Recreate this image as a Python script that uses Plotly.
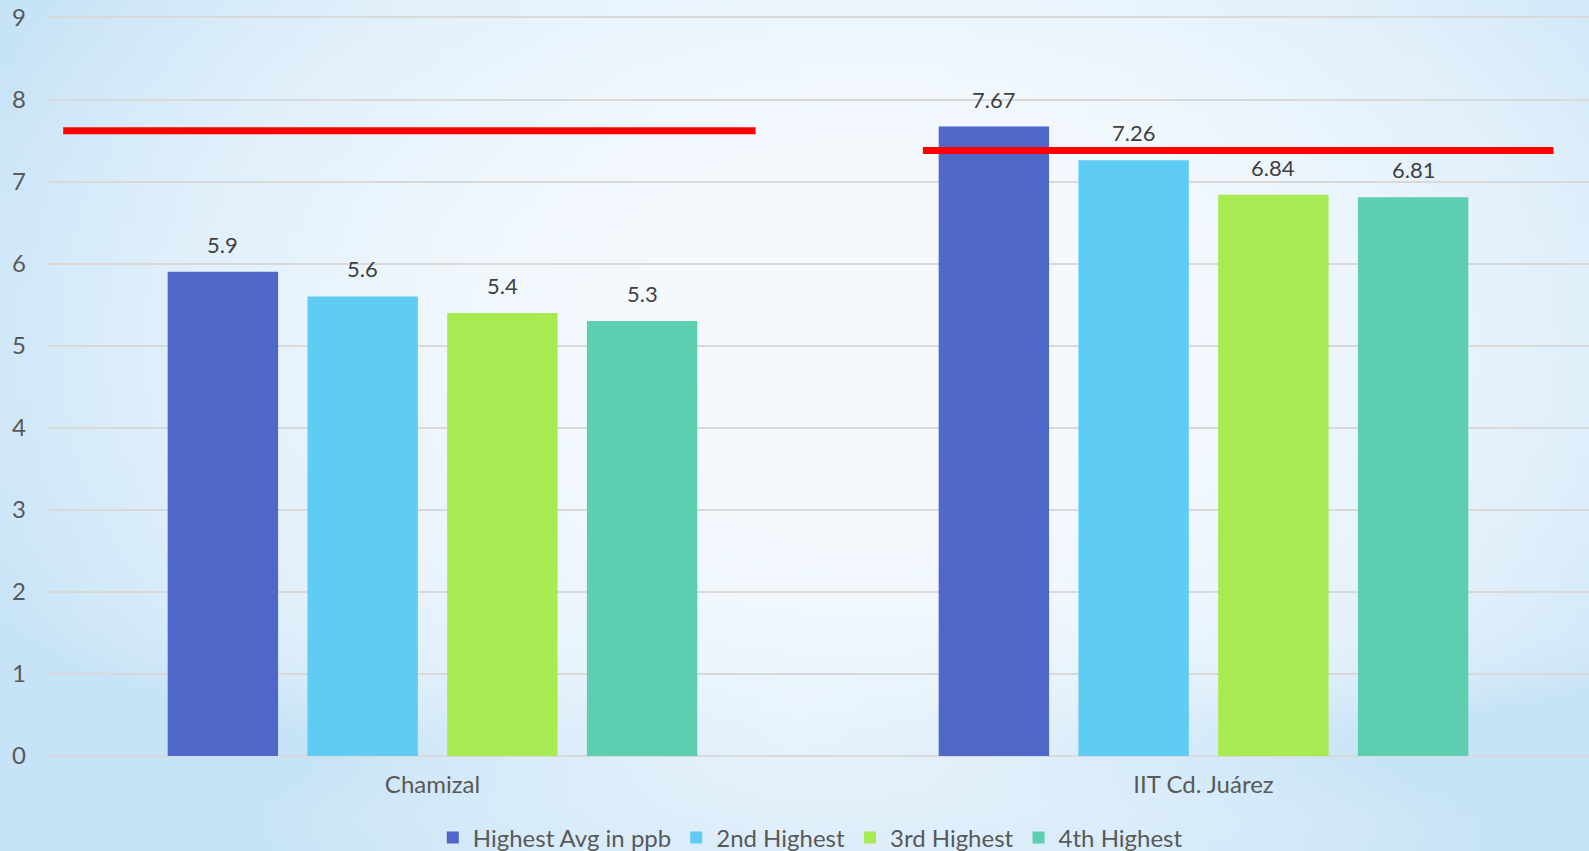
import base64, struct, zlib
import numpy as np
import plotly.graph_objects as go

categories = ["Chamizal", "IIT Cd. Juárez"]
series_names = ["Highest Avg in ppb", "2nd Highest", "3rd Highest", "4th Highest"]
values_highest = [5.9, 7.67]
values_2nd = [5.6, 7.26]
values_3rd = [5.4, 6.84]
values_4th = [5.3, 6.81]
series_values = [values_highest, values_2nd, values_3rd, values_4th]
series_labels = [["5.9", "7.67"], ["5.6", "7.26"], ["5.4", "6.84"], ["5.3", "6.81"]]
colors = ["#4F67C8", "#5ECCF3", "#A7EA52", "#5DCEAF"]

# red reference lines (category index units, value)
ref_line_x0 = [-0.479, 0.636]
ref_line_x1 = [0.419, 1.454]
ref_line_y = [7.62, 7.38]

y_ticks = list(range(0, 10))

W, H = 1589, 851
ML, MR, MT, MB = 47, 0, 15, 95
PW, PH = W - ML - MR, H - MT - MB
BARGAP = 0.275
BARGROUPGAP = 0.21


def make_png(arr):
    h, w, _ = arr.shape
    raw = b"".join(b"\x00" + arr[r].tobytes() for r in range(h))

    def chunk(tag, data):
        c = struct.pack(">I", len(data)) + tag + data
        return c + struct.pack(">I", zlib.crc32(tag + data) & 0xFFFFFFFF)

    return (b"\x89PNG\r\n\x1a\n" + chunk(b"IHDR", struct.pack(">IIBBBBB", w, h, 8, 2, 0, 0, 0))
            + chunk(b"IDAT", zlib.compress(raw, 9)) + chunk(b"IEND", b""))


# soft blue background, whiter in the middle
bw, bh = 160, 86
yy, xx = np.mgrid[0:bh, 0:bw]
xn = (xx / (bw - 1) - 0.55) / 0.62
yn = (yy / (bh - 1) - 0.40) / 0.80
t = np.clip(np.sqrt(xn ** 2 + yn ** 2), 0, 1) ** 2.4
band = np.exp(-((yy / (bh - 1) - 0.88) / 0.07) ** 2) * 0.5 * np.clip(np.abs(xx / (bw - 1) - 0.5) * 2.0, 0, 1)
t = np.clip(t + band, 0, 1)
white = np.array([246, 250, 254], float)
blue = np.array([198, 227, 247], float)
img = (white[None, None, :] * (1 - t[..., None]) + blue[None, None, :] * t[..., None]).astype(np.uint8)
bg_uri = "data:image/png;base64," + base64.b64encode(make_png(img)).decode()

fig = go.Figure()
for name, vals, col in zip(series_names, series_values, colors):
    fig.add_trace(go.Bar(name=name, x=categories, y=vals, marker=dict(color=col, line=dict(width=0))))

n = len(series_names)
annotations = []
for i, labels in enumerate(series_labels):
    for j, lab in enumerate(labels):
        annotations.append(dict(
            x=j + (i - (n - 1) / 2) * (1 - BARGAP) / n, y=series_values[i][j], xref="x", yref="y",
            text=lab, showarrow=False, yanchor="bottom", yshift=12,
            font=dict(family="Lato", size=22, color="#3F3F3F")))

shapes = []
for x0, x1, yv in zip(ref_line_x0, ref_line_x1, ref_line_y):
    shapes.append(dict(type="line", xref="x", yref="y", x0=x0, x1=x1, y0=yv, y1=yv,
                       line=dict(color="#FF0000", width=7), layer="above"))

fig.update_layout(
    width=W, height=H, autosize=False,
    margin=dict(l=ML, r=MR, t=MT, b=MB, autoexpand=False),
    paper_bgcolor="#E3F1FB", plot_bgcolor="rgba(0,0,0,0)",
    barmode="group", bargap=BARGAP, bargroupgap=BARGROUPGAP,
    font=dict(family="Lato", size=22, color="#595959"),
    showlegend=True,
    legend=dict(orientation="h", x=0.495, xanchor="center", y=-82 / PH, yanchor="middle",
                font=dict(family="Lato", size=24, color="#595959"), itemwidth=30,
                bgcolor="rgba(0,0,0,0)", traceorder="normal"),
    annotations=annotations, shapes=shapes,
    images=[dict(source=bg_uri, xref="paper", yref="paper", x=-ML / PW, y=1 + MT / PH,
                 sizex=W / PW, sizey=H / PH, xanchor="left", yanchor="top",
                 sizing="stretch", layer="below")],
    xaxis=dict(showgrid=False, showline=False, ticks="", ticklabelstandoff=12, automargin=False,
               tickfont=dict(family="Lato", size=24, color="#595959")),
    yaxis=dict(range=[0, 9.03], tickvals=y_ticks, showgrid=True, gridcolor="#D9D9D9", gridwidth=1.5,
               zeroline=True, zerolinecolor="#D9D9D9", zerolinewidth=1.5, showline=False,
               ticks="", ticklabelstandoff=20, automargin=False,
               tickfont=dict(family="Lato", size=24, color="#595959")),
)

fig.write_html("out.html", config={"displayModeBar": False})

with open("out.html", "r", encoding="utf-8") as f:
    html = f.read()
html = html.replace("<body>", '<body style="margin:0;padding:0;overflow:hidden;background:#E3F1FB">', 1)
with open("out.html", "w", encoding="utf-8") as f:
    f.write(html)
